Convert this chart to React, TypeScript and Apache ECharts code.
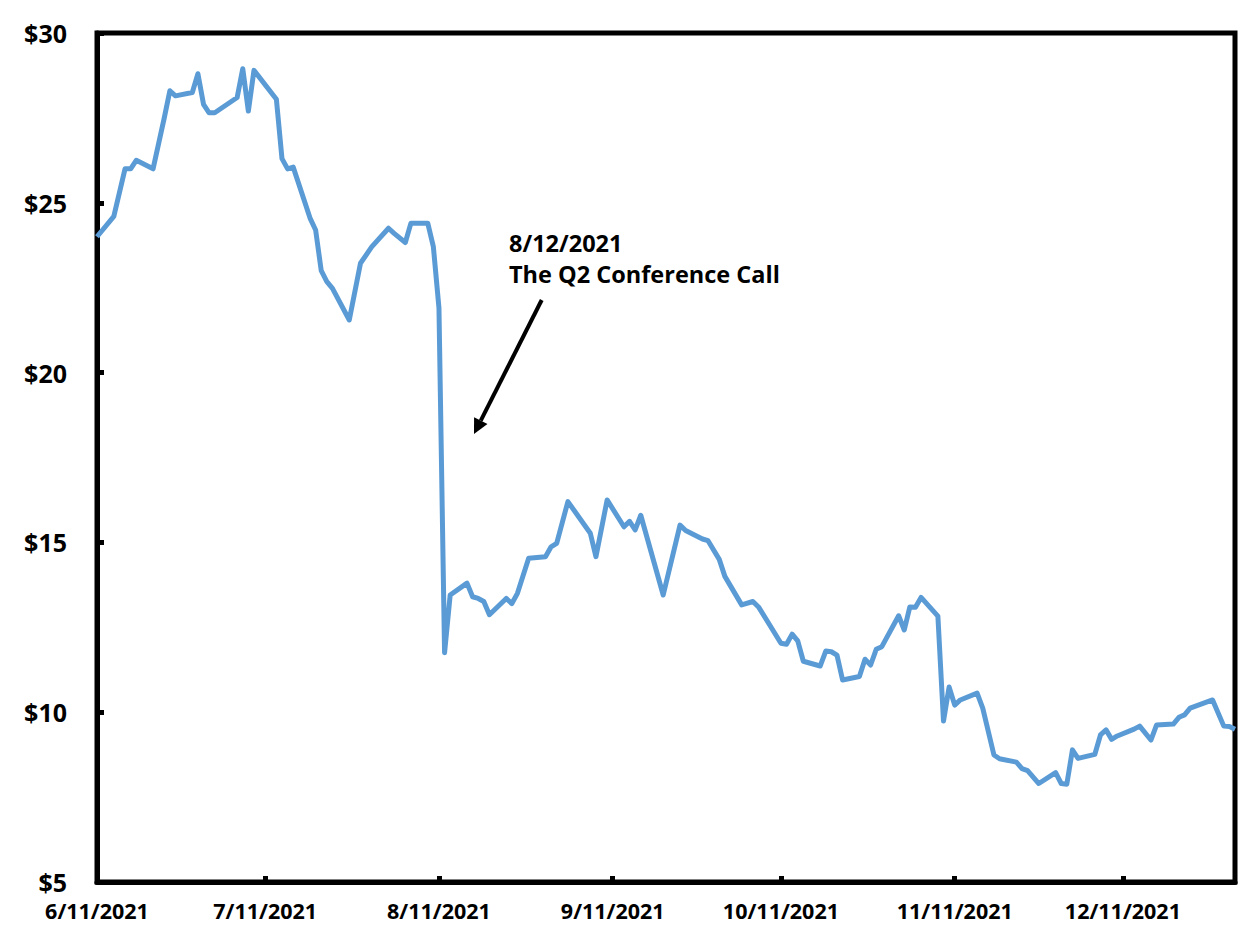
import React, { useEffect, useRef } from "react";
import * as echarts from "echarts";

const dates: string[] = [
  "2021-06-11","2021-06-14","2021-06-16","2021-06-17","2021-06-18","2021-06-21","2021-06-23","2021-06-24","2021-06-25","2021-06-28",
  "2021-06-29","2021-06-30","2021-07-01","2021-07-02","2021-07-06","2021-07-07","2021-07-08","2021-07-09","2021-07-13","2021-07-14",
  "2021-07-15","2021-07-16","2021-07-19","2021-07-20","2021-07-21","2021-07-22","2021-07-23","2021-07-26","2021-07-28","2021-07-30",
  "2021-08-02","2021-08-03","2021-08-05","2021-08-06","2021-08-09","2021-08-10","2021-08-11","2021-08-12","2021-08-13","2021-08-16",
  "2021-08-17","2021-08-18","2021-08-19","2021-08-20","2021-08-23","2021-08-24","2021-08-25","2021-08-27","2021-08-30","2021-08-31",
  "2021-09-01","2021-09-03","2021-09-07","2021-09-08","2021-09-10","2021-09-13","2021-09-14","2021-09-15","2021-09-16","2021-09-20",
  "2021-09-23","2021-09-24","2021-09-27","2021-09-28","2021-09-30","2021-10-01","2021-10-04","2021-10-06","2021-10-07","2021-10-11",
  "2021-10-12","2021-10-13","2021-10-14","2021-10-15","2021-10-18","2021-10-19","2021-10-20","2021-10-21","2021-10-22","2021-10-25",
  "2021-10-26","2021-10-27","2021-10-28","2021-10-29","2021-11-01","2021-11-02","2021-11-03","2021-11-04","2021-11-05","2021-11-08",
  "2021-11-09","2021-11-10","2021-11-11","2021-11-12","2021-11-15","2021-11-16","2021-11-18","2021-11-19","2021-11-22","2021-11-23",
  "2021-11-24","2021-11-26","2021-11-29","2021-11-30","2021-12-01","2021-12-02","2021-12-03","2021-12-06","2021-12-07","2021-12-08",
  "2021-12-09","2021-12-10","2021-12-13","2021-12-14","2021-12-16","2021-12-17","2021-12-20","2021-12-21","2021-12-22","2021-12-23",
  "2021-12-27","2021-12-29","2021-12-30","2021-12-31",
];

const prices: number[] = [
  24.0, 24.6, 26.0, 26.0, 26.25, 26.0, 27.5, 28.3, 28.15, 28.25,
  28.8, 27.9, 27.65, 27.65, 28.1, 28.95, 27.7, 28.9, 28.05, 26.3,
  26.0, 26.05, 24.55, 24.2, 23.0, 22.68, 22.48, 21.55, 23.22, 23.7,
  24.25, 24.1, 23.83, 24.4, 24.4, 23.71, 21.9, 11.75, 13.45, 13.8,
  13.4, 13.35, 13.26, 12.87, 13.35, 13.2, 13.5, 14.53, 14.58, 14.87,
  14.97, 16.2, 15.27, 14.58, 16.25, 15.46, 15.62, 15.37, 15.8, 13.45,
  15.51, 15.35, 15.1, 15.05, 14.5, 14.0, 13.16, 13.26, 13.1, 12.03,
  12.0, 12.3, 12.1, 11.5, 11.36, 11.8, 11.78, 11.68, 10.95, 11.05,
  11.56, 11.39, 11.85, 11.93, 12.84, 12.42, 13.1, 13.09, 13.38, 12.83,
  9.74, 10.74, 10.21, 10.36, 10.56, 10.12, 8.74, 8.63, 8.53, 8.34,
  8.28, 7.9, 8.22, 7.9, 7.88, 8.89, 8.64, 8.76, 9.33, 9.48,
  9.2, 9.3, 9.5, 9.59, 9.18, 9.62, 9.65, 9.85, 9.92, 10.12,
  10.36, 9.59, 9.58, 9.5,
];

const xTickDates: string[] = [
  "2021-06-11","2021-07-11","2021-08-11","2021-09-11","2021-10-11","2021-11-11","2021-12-11",
];
const xMinDate = "2021-06-11";
const xMaxDate = "2021-12-31";
const yTicks: number[] = [5, 10, 15, 20, 25, 30];

const annotationDate = "8/12/2021";
const annotationText = "The Q2 Conference Call";

function toTs(s: string): number {
  const [y, m, d] = s.split("-").map(Number);
  return new Date(y, m - 1, d).getTime();
}

const FONT = '"Open Sans", "Noto Sans", sans-serif';

export default function App() {
  const ref = useRef<HTMLDivElement>(null);
  useEffect(() => {
    if (!ref.current) return;
    const chart = echarts.init(ref.current, null, { renderer: "svg" });
    const tickTs = xTickDates.map(toTs);
    const tip = [474, 434];
    const start = [541.7, 300];
    const dx = tip[0] - start[0];
    const dy = tip[1] - start[1];
    const len = Math.hypot(dx, dy);
    const ux = dx / len, uy = dy / len;
    const hl = 15, hw = 7.5;
    const bx = tip[0] - ux * hl, by = tip[1] - uy * hl;
    const px = -uy, py = ux;
    chart.setOption({
      animation: false,
      backgroundColor: "#ffffff",
      grid: {
        left: 97,
        right: 13,
        top: 33,
        bottom: 56,
        show: true,
        borderColor: "#000000",
        borderWidth: 5,
        containLabel: false,
      },
      xAxis: {
        type: "value",
        min: toTs(xMinDate),
        max: toTs(xMaxDate),
        axisLine: { show: true, lineStyle: { color: "#000", width: 5 } },
        splitLine: { show: false },
        axisTick: {
          show: true,
          inside: true,
          length: 6,
          lineStyle: { color: "#000", width: 5 },
          customValues: tickTs,
        },
        axisLabel: {
          customValues: tickTs,
          margin: 19,
          lineHeight: 18,
          color: "#000",
          fontFamily: FONT,
          fontWeight: "bold",
          fontSize: 21.5,
          hideOverlap: false,
          showMinLabel: true,
          formatter: (v: number) => {
            const d = new Date(v);
            return `${d.getMonth() + 1}/${d.getDate()}/${d.getFullYear()}`;
          },
        },
      },
      yAxis: {
        type: "value",
        min: yTicks[0],
        max: yTicks[yTicks.length - 1],
        interval: 5,
        axisLine: { show: true, lineStyle: { color: "#000", width: 5 } },
        splitLine: { show: false },
        axisTick: {
          show: true,
          inside: true,
          length: 7,
          lineStyle: { color: "#000", width: 5 },
        },
        axisLabel: {
          margin: 30,
          lineHeight: 20,
          color: "#000",
          fontFamily: FONT,
          fontWeight: "bold",
          fontSize: 25,
          formatter: (v: number) => "$" + v,
        },
      },
      series: [
        {
          type: "line",
          data: dates.map((d, i) => [toTs(d), prices[i]]),
          showSymbol: false,
          symbol: "none",
          lineStyle: { color: "#5B9BD5", width: 5, join: "round" },
          z: 3,
        },
      ],
      graphic: [
        {
          type: "text",
          x: 509,
          y: 243,
          style: {
            text: annotationDate,
            fill: "#000",
            fontFamily: FONT,
            fontWeight: "bold",
            fontSize: 23.5,
            verticalAlign: "middle",
            align: "left",
          },
        },
        {
          type: "text",
          x: 509,
          y: 274,
          style: {
            text: annotationText,
            fill: "#000",
            fontFamily: FONT,
            fontWeight: "bold",
            fontSize: 23.5,
            verticalAlign: "middle",
            align: "left",
          },
        },
        {
          type: "line",
          shape: { x1: start[0], y1: start[1], x2: bx, y2: by },
          style: { stroke: "#000", lineWidth: 4 },
        },
        {
          type: "polygon",
          shape: {
            points: [
              [tip[0], tip[1]],
              [bx + px * hw, by + py * hw],
              [bx - px * hw, by - py * hw],
            ],
          },
          style: { fill: "#000" },
        },
      ],
    });
    return () => chart.dispose();
  }, []);
  return (
    <div
      ref={ref}
      style={{ position: "fixed", left: 0, top: 0, width: 1248, height: 938, background: "#fff" }}
    />
  );
}
